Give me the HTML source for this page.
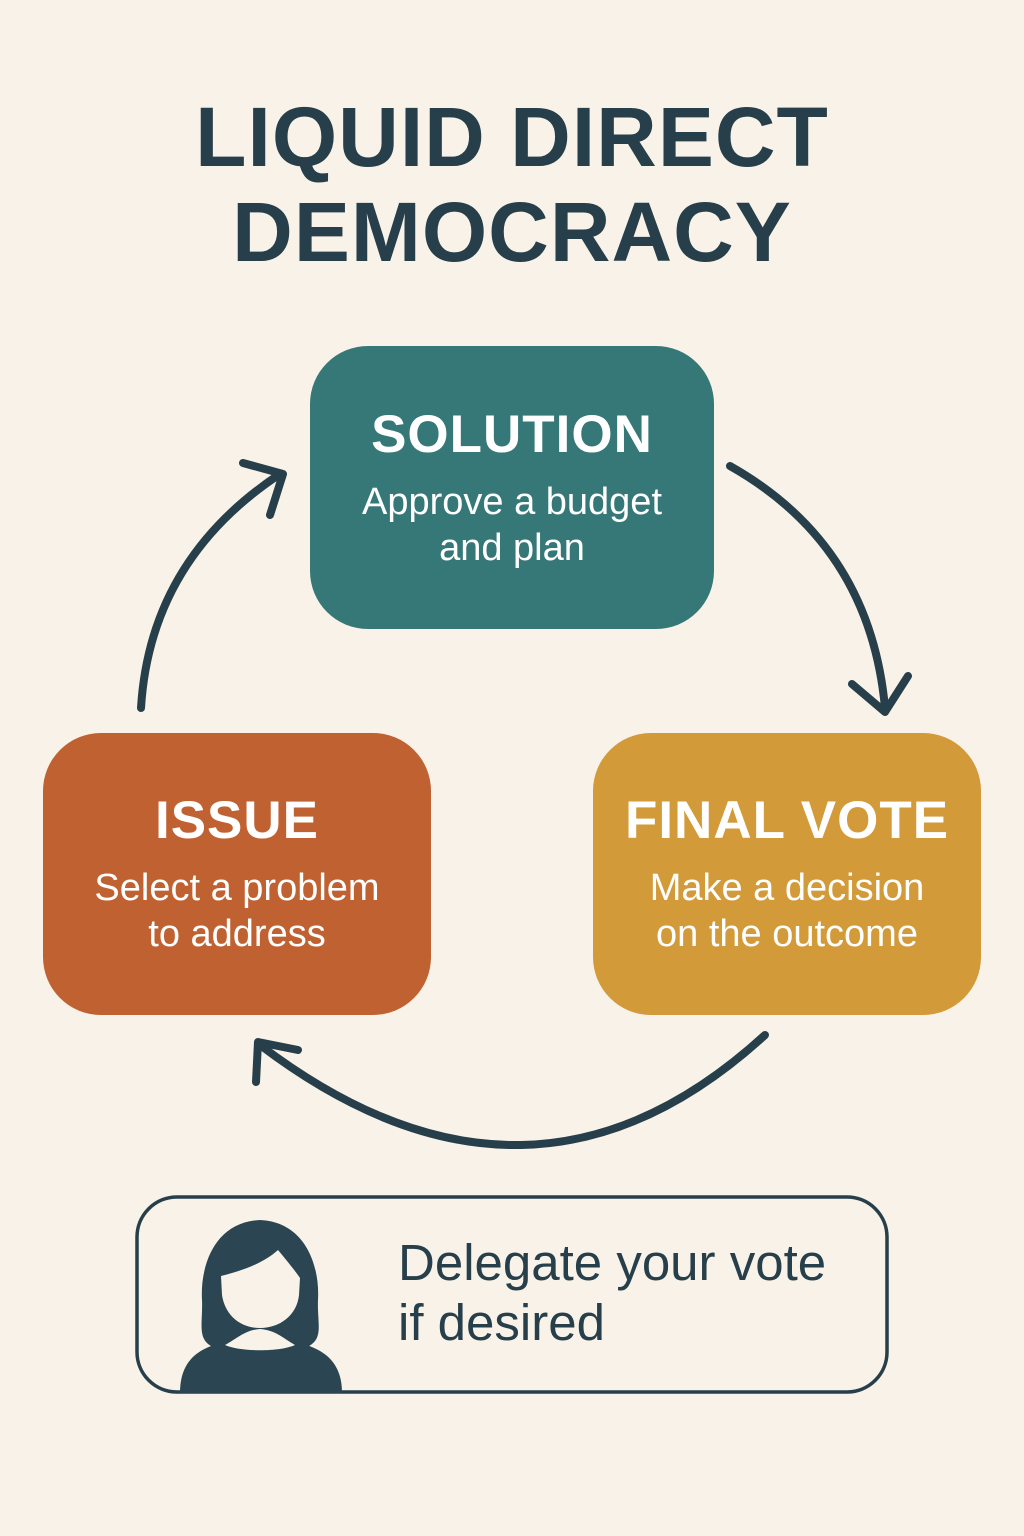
<!DOCTYPE html>
<html><head><style>
html,body{margin:0;padding:0}
body{width:1024px;height:1536px;background:#f9f2e8;position:relative;overflow:hidden;font-family:"Liberation Sans","DejaVu Sans",sans-serif;color:#263f4a}
.t{position:absolute;left:0;width:1024px;text-align:center;font-weight:bold;font-size:84px;letter-spacing:1px;line-height:1}
.box{position:absolute;border-radius:58px;color:#fff;text-align:center}
.box h2{margin:0;font-size:53px;font-weight:bold;letter-spacing:1px}
.box p{margin:0;font-size:38px;line-height:46px}
</style></head><body>
<div class="t" style="top:95px">LIQUID DIRECT</div>
<div class="t" style="top:190px">DEMOCRACY</div>

<div class="box" style="left:310px;top:346px;width:404px;height:283px;background:#367878">
<h2 style="margin-top:58px">SOLUTION</h2><p style="margin-top:14px">Approve a budget<br>and plan</p></div>
<div class="box" style="left:43px;top:733px;width:388px;height:282px;background:#c06132">
<h2 style="margin-top:57px">ISSUE</h2><p style="margin-top:14px">Select a problem<br>to address</p></div>
<div class="box" style="left:593px;top:733px;width:388px;height:282px;background:#d39a3a">
<h2 style="margin-top:57px">FINAL VOTE</h2><p style="margin-top:14px">Make a decision<br>on the outcome</p></div>

<svg width="1024" height="1536" style="position:absolute;left:0;top:0" fill="none" stroke="#263f4a" stroke-width="8" stroke-linecap="round" stroke-linejoin="round">
<path d="M141 708 Q150 560 280 474"/>
<path d="M243 463 L283 474 L270 515"/>
<path d="M730 466 Q870 545 885 708"/>
<path d="M852 684 L885 712 L908 676"/>
<path d="M765 1035 Q530 1250 260 1045"/>
<path d="M256 1082 L258 1042 L298 1050"/>
<rect x="137" y="1197" width="750" height="195" rx="40" stroke-width="3.5"/>
</svg>
<svg width="1024" height="1536" style="position:absolute;left:0;top:0">
<g fill="#2b4652">
<path d="M260 1220 C215 1222 200 1265 202 1300 C203 1325 196 1340 215 1348 L305 1348 C325 1340 317 1325 318 1300 C320 1265 305 1222 260 1220 Z"/>
<path d="M180 1393 C180 1355 205 1345 235 1340 L285 1340 C315 1345 342 1355 342 1393 Z"/>
</g>
<path d="M221 1276 C245 1270 265 1262 278 1250 C288 1262 296 1272 300 1278 L299 1295 C297 1315 280 1328 260 1328 C240 1328 225 1315 222 1295 Z" fill="#f9f2e8"/>
<path d="M225 1345 C240 1352 280 1352 295 1345 C283 1338 275 1330 260 1329 C245 1330 238 1338 225 1345 Z" fill="#f9f2e8"/>
</svg>
<div style="position:absolute;left:398px;top:1233px;font-size:51px;line-height:60px;color:#263f4a">Delegate your vote<br>if desired</div>
</body></html>
